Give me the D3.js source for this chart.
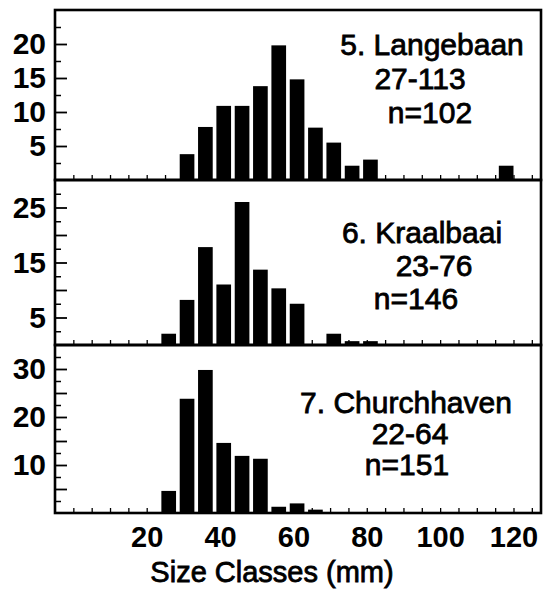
<!doctype html>
<html lang="en">
<head>
  <meta charset="utf-8">
  <title>Size classes</title>
  <script src="https://d3js.org/d3.v7.min.js"></script>
  <style>
  body {
    margin: 0;
    background: #fff;
  }
  text {
    font-family: "Liberation Sans", Arial, Helvetica, sans-serif;
    fill: #000;
  }
  </style>
</head>
<body>
<div id="chart"></div>
<script>
// class midpoints (mm) as drawn, and % frequency per class
var langebaanClasses = [31, 36, 41, 46, 51, 56, 61, 66, 71, 76, 81, 118];
var langebaanPct     = [3.8, 7.8, 10.9, 10.9, 13.8, 19.8, 14.8, 7.7, 5.5, 2.1, 3.0, 2.1];

var kraalbaaiClasses = [26, 31, 36, 41, 46, 51, 56, 61, 71, 76, 81];
var kraalbaaiPct     = [2.05, 8.2, 17.8, 11.0, 26.0, 13.7, 10.3, 7.5, 2.05, 0.7, 0.7];

var churchhavenClasses = [26, 31, 36, 41, 46, 51, 56, 61, 66];
var churchhavenPct     = [4.6, 23.8, 29.8, 14.6, 11.9, 11.3, 1.3, 2.0, 0.7];

var siteNames  = ["5. Langebaan", "6. Kraalbaai", "7. Churchhaven"];
var siteRanges = ["27-113", "23-76", "22-64"];
var siteN      = ["n=102", "n=146", "n=151"];

var yMaxes = [25, 30, 35];
var yTickLabels = [[5, 10, 15, 20], [5, 15, 25], [10, 20, 30]];
var xTickLabels = [20, 40, 60, 80, 100, 120];
var xTitle = "Size Classes (mm)";

var panels = [
  {classes: langebaanClasses, pct: langebaanPct},
  {classes: kraalbaaiClasses, pct: kraalbaaiPct},
  {classes: churchhavenClasses, pct: churchhavenPct}
];

// layout
var width = 546, height = 606;
var left = 55, right = 541;
var panelTops = [10, 180, 345],
    panelBottoms = [180, 345, 513];
// text block placement per panel: [x line1, x line2, x line3, baseline line1, line gap]
var textPos = [
  [432, 420, 430, 55, 34],
  [422, 434, 416, 243, 33],
  [406, 410, 407, 413, 31]
];

var svg = d3.select('#chart').append('svg')
  .attr('width', width)
  .attr('height', height);

var x = d3.scaleLinear()
  .domain([-5, 127.5])
  .range([left, right]);

panels.forEach(function(p, i) {
  var y = d3.scaleLinear()
    .domain([0, yMaxes[i]])
    .range([panelBottoms[i], panelTops[i]]);

  var g = svg.append('g');

  // bars
  g.selectAll('.bar')
    .data(p.classes.map(function(c, j) { return {c: c, v: p.pct[j]}; }))
    .enter().append('rect')
    .attr('class', 'bar')
    .attr('x', function(d) { return x(d.c - 2); })
    .attr('width', x(4) - x(0))
    .attr('y', function(d) { return y(d.v); })
    .attr('height', function(d) { return y(0) - y(d.v); })
    .attr('fill', '#000');

  // y minor ticks (every 2.5) and major ticks (every 5), pointing inward
  var all = d3.range(2.5, yMaxes[i], 2.5);
  var minor = all.filter(function(v) { return v % 5 !== 0; });
  var major = all.filter(function(v) { return v % 5 === 0; });

  g.append('g')
    .attr('transform', 'translate(' + left + ',0)')
    .call(d3.axisRight(y).tickValues(minor).tickSize(6).tickFormat(''))
    .call(function(a) { a.select('.domain').remove(); a.selectAll('line').attr('stroke-width', 1.5); });

  g.append('g')
    .attr('transform', 'translate(' + left + ',0)')
    .call(d3.axisRight(y).tickValues(major).tickSize(12).tickFormat(''))
    .call(function(a) { a.select('.domain').remove(); a.selectAll('line').attr('stroke-width', 1.8); });

  // y labels
  g.append('g')
    .attr('transform', 'translate(' + left + ',0)')
    .call(d3.axisLeft(y).tickValues(yTickLabels[i]).tickSize(0).tickPadding(9))
    .call(function(a) {
      a.select('.domain').remove();
      a.selectAll('text')
        .attr('font-size', '30px')
        .attr('font-weight', 'bold')
        .attr('font-family', '"Liberation Sans", Arial, sans-serif');
    });

  // x ticks along bottom of each panel, pointing up
  g.append('g')
    .attr('transform', 'translate(0,' + panelBottoms[i] + ')')
    .call(d3.axisTop(x).tickValues(d3.range(0, 126, 5)).tickSize(5).tickFormat(''))
    .call(function(a) { a.select('.domain').remove(); a.selectAll('line').attr('stroke-width', 1.3); });

  // frame
  g.append('rect')
    .attr('x', left)
    .attr('y', panelTops[i])
    .attr('width', right - left)
    .attr('height', panelBottoms[i] - panelTops[i])
    .attr('fill', 'none')
    .attr('stroke', '#000')
    .attr('stroke-width', 2.6);

  // site label
  var t = textPos[i];
  [siteNames[i], siteRanges[i], siteN[i]].forEach(function(s, k) {
    g.append('text')
      .attr('x', t[k])
      .attr('y', t[3] + k * t[4])
      .attr('text-anchor', 'middle')
      .attr('font-size', '30px')
      .attr('stroke', '#000')
      .attr('stroke-width', 0.8)
      .text(s);
  });
});

// x labels under the last panel
svg.append('g')
  .attr('transform', 'translate(0,' + panelBottoms[2] + ')')
  .call(d3.axisBottom(x).tickValues(xTickLabels).tickSize(0).tickPadding(13))
  .call(function(a) {
    a.select('.domain').remove();
    a.selectAll('text')
      .attr('font-size', '29px')
      .attr('font-weight', 'bold')
      .attr('font-family', '"Liberation Sans", Arial, sans-serif');
  });

// axis title
svg.append('text')
  .attr('x', 272)
  .attr('y', 582)
  .attr('text-anchor', 'middle')
  .attr('font-size', '29px')
  .attr('stroke', '#000')
  .attr('stroke-width', 0.8)
  .text(xTitle);
</script>
</body>
</html>
